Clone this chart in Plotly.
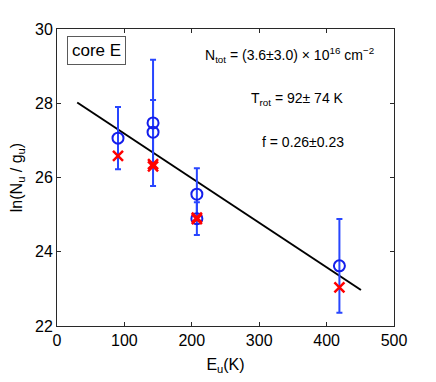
import plotly.graph_objects as go

# observed transitions
energy_k = [90.5, 142.5, 142.5, 207.5, 207.5, 419]
ln_nu_gu = [27.06, 27.47, 27.22, 25.55, 24.89, 23.62]
ln_err = [0.84, 1.70, 0.87, 0.70, 0.44, 1.26]

# model (optically thick corrected) values
model_k = [90.5, 142.5, 142.5, 207.5, 207.5, 419]
model_ln = [26.58, 26.36, 26.30, 24.92, 24.88, 23.04]

# rotation diagram fit
fit_k = [30, 451]
fit_ln = [28.02, 22.97]

FONT = "Liberation Sans, Arial, sans-serif"

fig = go.Figure()
fig.add_trace(go.Scatter(
    x=fit_k, y=fit_ln, mode="lines",
    line=dict(color="black", width=2), showlegend=False,
))
fig.add_trace(go.Scatter(
    x=energy_k, y=ln_nu_gu, mode="markers",
    marker=dict(symbol="circle-open", size=11, color="rgb(20,30,235)", line=dict(width=2)),
    error_y=dict(type="data", array=ln_err, color="rgb(40,70,255)", thickness=2, width=3),
    showlegend=False,
))
fig.add_trace(go.Scatter(
    x=model_k, y=model_ln, mode="markers",
    marker=dict(symbol="x-thin-open", size=10, color="red", line=dict(width=2.5, color="red")),
    showlegend=False,
))

fig.add_annotation(
    x=0.117, y=0.975, xref="paper", yref="paper", xanchor="center", yanchor="top",
    text="core E", showarrow=False, font=dict(family=FONT, size=17, color="black"),
    bordercolor="rgb(90,90,90)", borderwidth=1, borderpad=4, bgcolor="white",
)
fig.add_annotation(
    x=0.69, y=0.912, xref="paper", yref="paper", xanchor="center", yanchor="middle",
    text="N<sub>tot</sub> = (3.6±3.0) × 10<sup>16</sup> cm<sup>−2</sup>",
    showarrow=False, font=dict(family=FONT, size=14, color="black"),
)
fig.add_annotation(
    x=0.713, y=0.765, xref="paper", yref="paper", xanchor="center", yanchor="middle",
    text="T<sub>rot</sub> = 92± 74 K",
    showarrow=False, font=dict(family=FONT, size=14, color="black"),
)
fig.add_annotation(
    x=0.73, y=0.62, xref="paper", yref="paper", xanchor="center", yanchor="middle",
    text="f = 0.26±0.23",
    showarrow=False, font=dict(family=FONT, size=14, color="black"),
)

axis_common = dict(
    showgrid=False, zeroline=False, showline=True, linecolor="rgb(40,40,40)", linewidth=1,
    mirror="allticks", ticks="inside", ticklen=4, tickcolor="rgb(40,40,40)",
    tickfont=dict(family=FONT, size=16, color="black"), automargin=False,
)
fig.update_xaxes(
    range=[0, 500], tickvals=[0, 100, 200, 300, 400, 500],
    title=dict(text="E<sub>u</sub>(K)", font=dict(family=FONT, size=16, color="black"), standoff=10),
    **axis_common,
)
fig.update_yaxes(
    range=[22, 30], tickvals=[22, 24, 26, 28, 30],
    title=dict(text="ln(N<sub>u</sub> / g<sub>u</sub>)", font=dict(family=FONT, size=16, color="black"), standoff=12),
    **axis_common,
)
# the page adds an 8px body margin, so the figure margins are reduced by that amount
fig.update_layout(
    width=436, height=382,
    margin=dict(l=49, r=50, t=21, b=64),
    plot_bgcolor="white", paper_bgcolor="white",
    font=dict(family=FONT),
)
fig.write_html("out.html")
